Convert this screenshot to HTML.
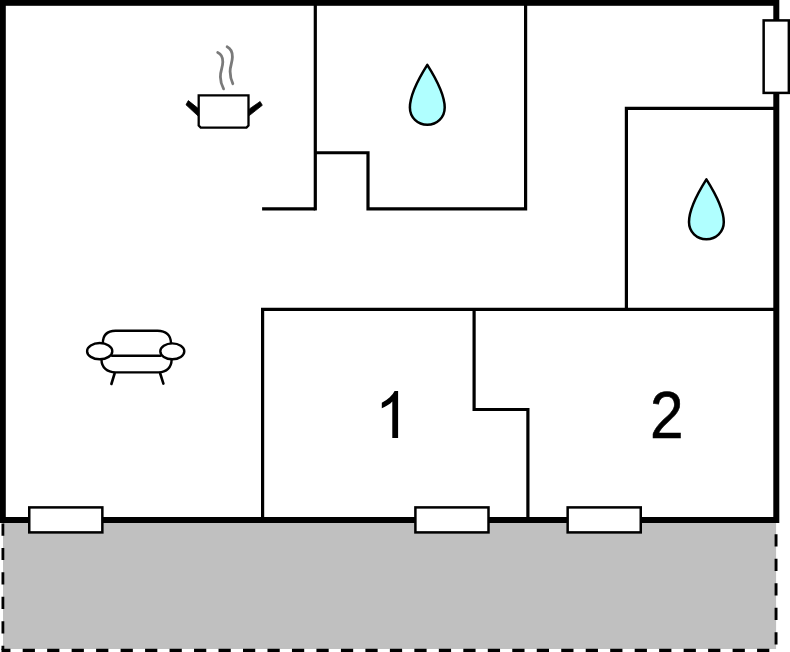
<!DOCTYPE html>
<html>
<head>
<meta charset="utf-8">
<style>
html,body{margin:0;padding:0;background:#fff;}
body{width:790px;height:652px;overflow:hidden;font-family:"Liberation Sans",sans-serif;}
svg{display:block;}
</style>
</head>
<body>
<svg width="790" height="652" viewBox="0 0 790 652">
  <rect x="0" y="0" width="790" height="652" fill="#ffffff"/>
  <!-- terrace -->
  <polygon points="3.0,522 776.1,522 776.1,648.9 3.0,648.9" fill="#c0c0c0"/>
  <g fill="none" stroke="#000" stroke-dasharray="12.24 12.24">
    <path d="M2.9,522.7 V650.1" stroke-width="2.8" stroke-dashoffset="-0.7"/>
    <path d="M1.5,650.7 H777.5" stroke-width="3.8" stroke-dashoffset="125.7"/>
    <path d="M776.05,650.1 V522" stroke-width="2.9" stroke-dashoffset="900.1"/>
  </g>
  <!-- outer walls -->
  <rect x="2.8" y="2.8" width="773.5" height="517.2" fill="#ffffff" stroke="#000" stroke-width="6"/>
  <!-- inner walls -->
  <g fill="none" stroke="#000" stroke-width="3.2" stroke-linecap="butt" stroke-linejoin="miter">
    <path d="M262.1,208.8 H315.3"/>
    <path d="M315.3,5 V210.4"/>
    <path d="M315.3,152.75 H368.0 V208.8 H525.6 V5"/>
    <path d="M775,108.4 H626.4 V309.4"/>
    <path d="M775,309.4 H262.6 V518"/>
    <path d="M474.1,309.4 V409.5 H527.9 V518"/>
  </g>
  <!-- windows -->
  <g fill="#ffffff" stroke="#000" stroke-width="2.5">
    <rect x="29.25" y="507.4" width="73.1" height="25"/>
    <rect x="415.4" y="507.4" width="73.1" height="25"/>
    <rect x="567.65" y="507.4" width="73.1" height="25"/>
    <rect x="763.65" y="20.4" width="25.2" height="72.5"/>
  </g>
  <!-- water drops -->
  <g fill="#b0ffff" stroke="#000" stroke-width="2.5" stroke-linejoin="round">
    <path id="drop" d="M427.3,64.8 C434.4,76 444.7,93 444.7,107.5 C444.7,117.5 437,124.7 427.3,124.7 C417.6,124.7 409.9,117.5 409.9,107.5 C409.9,93 420.2,76 427.3,64.8 Z"/>
    <path d="M427.3,64.8 C434.4,76 444.7,93 444.7,107.5 C444.7,117.5 437,124.7 427.3,124.7 C417.6,124.7 409.9,117.5 409.9,107.5 C409.9,93 420.2,76 427.3,64.8 Z" transform="translate(279.1,114.5)"/>
  </g>
  <!-- pot -->
  <g>
    <path d="M198.7,95.3 H248.5 V125.6 L246.5,127.6 H200.7 L198.7,125.6 Z" fill="#fff" stroke="#000" stroke-width="2.3" stroke-linejoin="miter"/>
    <path d="M188.3,100.6 L198.4,108.6 V116.3 L186.0,104.8 Z" fill="#000" stroke="#000" stroke-width="0.8" stroke-linejoin="round"/>
    <path d="M260.1,101.5 L249.4,108.9 V115.5 L262.3,105.3 Z" fill="#000" stroke="#000" stroke-width="0.8" stroke-linejoin="round"/>
    <path d="M217.7,52.5 C221,54 222.9,57 222.8,62 C222.7,68 220.2,71 220.4,77 C220.5,82 222,86 223.6,88.9" fill="none" stroke="#7a7a7a" stroke-width="2.8" stroke-linecap="round"/>
    <path d="M227.1,46.8 C230.5,48.5 232.5,52 232.4,57 C232.3,63 230,66 230.1,71.5 C230.2,76.5 231.5,81 232.8,83.7" fill="none" stroke="#7a7a7a" stroke-width="2.8" stroke-linecap="round"/>
  </g>
  <!-- sofa -->
  <g fill="none" stroke="#000" stroke-width="2.4" stroke-linecap="round">
    <path d="M102.8,343.5 C102.8,335 107.5,330.7 115.5,330.7 H157.5 C165.8,330.7 171,335 171,343.5"/>
    <path d="M101.5,359.5 C101.5,367.5 107,372.4 115.5,372.4 H158.5 C166.5,372.4 171.6,367.5 171.6,359.5"/>
    <path d="M112,355.8 H160.5"/>
    <ellipse cx="99.7" cy="351.15" rx="12.6" ry="8.1" fill="#fff"/>
    <ellipse cx="172.3" cy="351.3" rx="12.0" ry="7.9" fill="#fff"/>
    <path d="M114.6,373.5 L111.4,384" stroke-width="2.6"/>
    <path d="M160.2,373.5 L163.4,383.6" stroke-width="2.6"/>
  </g>
  <!-- numbers -->
  <path d="M398.1,437.96 H392.3 V401.4 Q390.7,403.39 387.52,405.37 Q384.34,407.34 381.8,408.33 V402.79 Q386.36,400.52 389.77,397.31 Q393.18,394.09 394.6,391.06 H398.1 Z" fill="#000"/>
  <g font-family="Liberation Sans, sans-serif" font-size="65.5" fill="#000" stroke="#000" stroke-width="0.6">
    <text transform="translate(650.1,437.9) scale(0.92,1.022)" x="0" y="0">2</text>
  </g>
</svg>
</body>
</html>
